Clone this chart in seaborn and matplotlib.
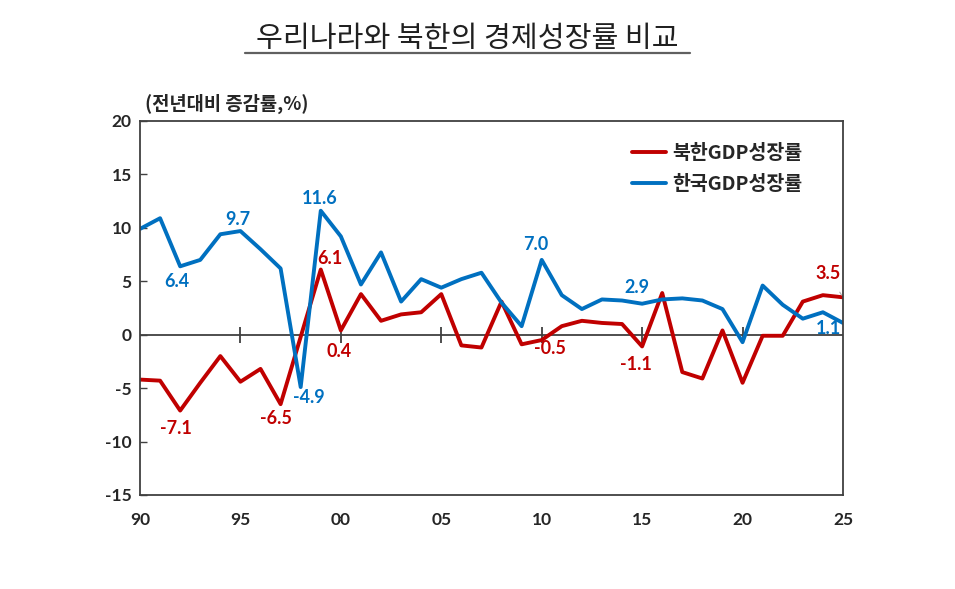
import pandas as pd
import seaborn as sns
import matplotlib.pyplot as plt
from matplotlib.lines import Line2D

# data
years = list(range(1990, 2026))
north = [-4.2, -4.3, -7.1, -4.5, -2.0, -4.4, -3.2, -6.5, -0.2, 6.1,
         0.4, 3.8, 1.3, 1.9, 2.1, 3.8, -1.0, -1.2, 3.1, -0.9,
         -0.5, 0.8, 1.3, 1.1, 1.0, -1.1, 3.9, -3.5, -4.1, 0.4,
         -4.5, -0.1, -0.1, 3.1, 3.7, 3.5]
south = [9.9, 10.9, 6.4, 7.0, 9.4, 9.7, 8.0, 6.2, -4.9, 11.6,
         9.2, 4.7, 7.7, 3.1, 5.2, 4.4, 5.2, 5.8, 3.0, 0.8,
         7.0, 3.7, 2.4, 3.3, 3.2, 2.9, 3.3, 3.4, 3.2, 2.4,
         -0.7, 4.6, 2.8, 1.5, 2.1, 1.1]
series_names = ['북한GDP성장률', '한국GDP성장률']
colors = {'북한GDP성장률': '#C00000', '한국GDP성장률': '#0070C0'}
tick_years = [1990, 1995, 2000, 2005, 2010, 2015, 2020, 2025]
tick_labels = ['90', '95', '00', '05', '10', '15', '20', '25']

# labelled points: series, year, (dx, dy) offset in pixels
labels = [
    ('한국GDP성장률', 1992, (-3, -15)),
    ('한국GDP성장률', 1995, (-3, 12)),
    ('한국GDP성장률', 1999, (-1, 12)),
    ('한국GDP성장률', 1998, (8, -10)),
    ('한국GDP성장률', 2010, (-6, 15)),
    ('한국GDP성장률', 2015, (-5, 16)),
    ('한국GDP성장률', 2025, (-15, -6)),
    ('북한GDP성장률', 1999, (9, 11)),
    ('북한GDP성장률', 2000, (-2, -21)),
    ('북한GDP성장률', 1992, (-4, -18)),
    ('북한GDP성장률', 1997, (-5, -14)),
    ('북한GDP성장률', 2010, (8, -8)),
    ('북한GDP성장률', 2015, (-6, -18)),
]

df = pd.DataFrame({'year': years * 2,
                   'value': north + south,
                   'series': [series_names[0]] * len(years) + [series_names[1]] * len(years)})

sns.set_style('white')
plt.rcParams['font.family'] = ['Noto Sans CJK KR', 'DejaVu Sans']
plt.rcParams['axes.unicode_minus'] = False
num_font = ['Lato', 'DejaVu Sans']

fig = plt.figure(figsize=(9.55, 5.89), dpi=100)
ax = fig.add_axes([0.1466, 0.1596, 0.7361, 0.635])

sns.lineplot(data=df, x='year', y='value', hue='series', hue_order=series_names,
             palette=colors, linewidth=2.8, ax=ax, legend=False)

ax.set_xlim(1990, 2025)
ax.set_ylim(-15, 20)
ax.set_yticks(range(-15, 25, 5))
ax.set_xticks(tick_years)
ax.set_xticklabels(tick_labels)
ax.set_xlabel('')
ax.set_ylabel('')
for lab in ax.get_xticklabels() + ax.get_yticklabels():
    lab.set_family(num_font)
    lab.set_fontweight('bold')
    lab.set_fontsize(12.5)
ax.tick_params(axis='y', direction='in', length=5, width=1, color='#404040', pad=6, left=True)
ax.tick_params(axis='x', length=0, pad=12)
for sp in ax.spines.values():
    sp.set_color('#404040')
    sp.set_linewidth(1.3)

# zero line with year ticks
ax.axhline(0, color='#404040', lw=1.3, zorder=1)
ax.plot(tick_years[1:-1], [0] * (len(tick_years) - 2), ls='none', marker='|',
        markersize=11, mew=1.3, color='#404040', zorder=1)

# data labels
lookup = {series_names[0]: dict(zip(years, north)), series_names[1]: dict(zip(years, south))}
for name, yr, (dx, dy) in labels:
    v = lookup[name][yr]
    ax.annotate(f'{v:.1f}', (yr, v), xytext=(dx, dy), textcoords='offset pixels',
                ha='center', va='center', color=colors[name], fontsize=13,
                fontweight='bold', family=num_font)
v = lookup[series_names[0]][2025]
ax.annotate(f'{v:.1f}', (2025, v), xytext=(-15, 24), textcoords='offset pixels',
            ha='center', va='center', color=colors[series_names[0]], fontsize=13,
            fontweight='bold', family=num_font,
            arrowprops=dict(arrowstyle='-', color='#b0b0b0', lw=0.8, shrinkA=6, shrinkB=2))

# legend
handles = [Line2D([0], [0], color=colors[n], lw=2.8) for n in series_names]
leg = ax.legend(handles, series_names, loc='upper left', bbox_to_anchor=(0.675, 0.985),
                frameon=False, handlelength=1.75, handletextpad=0.3, labelspacing=0.6,
                prop={'family': ['Noto Sans CJK KR', 'DejaVu Sans'], 'weight': 'bold', 'size': 14})

# axis unit label
fig.text(0.152, 0.823, '(전년대비 증감률,%)', fontsize=13.5, fontweight='bold', va='center', ha='left')

# title with underline
fig.text(0.489, 0.934, '우리나라와 북한의 경제성장률 비교', fontsize=21, ha='center', va='center',
         color='#202020')
fig.add_artist(Line2D([0.257, 0.723], [0.910, 0.910], transform=fig.transFigure,
                      color='#606060', lw=1.6))

fig.savefig('out.png', dpi=100, facecolor='white')
